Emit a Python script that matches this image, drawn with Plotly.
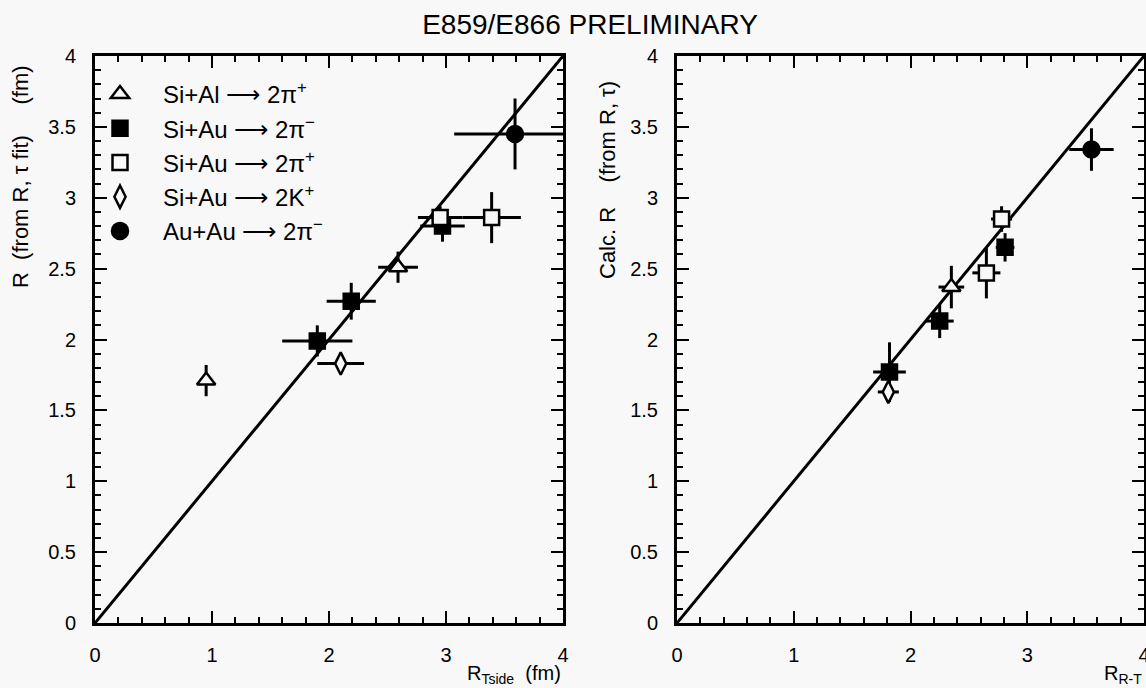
import plotly.graph_objects as go

# ---------------- data ----------------
diag = [0, 4]

# Left panel: R (from R, tau fit) vs R_Tside
L_tri_x = [0.95, 2.59];  L_tri_y = [1.71, 2.51];  L_tri_ex = [0.0, 0.17];  L_tri_ey = [0.11, 0.11]
L_fsq_x = [1.90, 2.19, 2.97];  L_fsq_y = [1.99, 2.27, 2.80];  L_fsq_ex = [0.30, 0.21, 0.19];  L_fsq_ey = [0.11, 0.13, 0.11]
L_osq_x = [2.95, 3.39];  L_osq_y = [2.86, 2.86];  L_osq_ex = [0.19, 0.25];  L_osq_ey = [0.08, 0.18]
L_dia_x = [2.10];  L_dia_y = [1.83];  L_dia_ex = [0.20];  L_dia_ey = [0.07]
L_cir_x = [3.59];  L_cir_y = [3.45];  L_cir_ex = [0.52];  L_cir_ey = [0.25]

# Right panel: Calc. R (from R, tau) vs R_R-T
R_tri_x = [2.35];  R_tri_y = [2.37];  R_tri_ex = [0.11];  R_tri_ey = [0.15]
R_fsq_x = [1.82, 2.25, 2.81];  R_fsq_y = [1.77, 2.13, 2.65];  R_fsq_ex = [0.14, 0.12, 0.08];  R_fsq_ey = [0.21, 0.12, 0.10]
R_osq_x = [2.78, 2.65];  R_osq_y = [2.85, 2.47];  R_osq_ex = [0.09, 0.12];  R_osq_ey = [0.09, 0.18]
R_dia_x = [1.81];  R_dia_y = [1.63];  R_dia_ex = [0.09];  R_dia_ey = [0.05]
R_cir_x = [3.55];  R_cir_y = [3.34];  R_cir_ex = [0.19];  R_cir_ey = [0.15]

ARROW = "\u27f6"
labels = [f"Si+Al {ARROW} 2\u03c0<sup>+</sup>",
          f"Si+Au {ARROW} 2\u03c0<sup>\u2212</sup>",
          f"Si+Au {ARROW} 2\u03c0<sup>+</sup>",
          f"Si+Au {ARROW} 2K<sup>+</sup>",
          f"Au+Au {ARROW} 2\u03c0<sup>\u2212</sup>"]

# ---------------- styling ----------------
BG = "#f8f8f8"
FONT = "Liberation Sans"
W, H = 1146, 688

styles = [
    dict(symbol="triangle-up", size=16, color=BG),
    dict(symbol="square", size=15, color="black"),
    dict(symbol="square", size=15, color=BG),
    dict(symbol="diamond-tall", size=16, color=BG),
    dict(symbol="circle", size=16, color="black"),
]

left_sets = [(L_tri_x, L_tri_y, L_tri_ex, L_tri_ey),
             (L_fsq_x, L_fsq_y, L_fsq_ex, L_fsq_ey),
             (L_osq_x, L_osq_y, L_osq_ex, L_osq_ey),
             (L_dia_x, L_dia_y, L_dia_ex, L_dia_ey),
             (L_cir_x, L_cir_y, L_cir_ex, L_cir_ey)]
right_sets = [(R_tri_x, R_tri_y, R_tri_ex, R_tri_ey),
              (R_fsq_x, R_fsq_y, R_fsq_ex, R_fsq_ey),
              (R_osq_x, R_osq_y, R_osq_ex, R_osq_ey),
              (R_dia_x, R_dia_y, R_dia_ex, R_dia_ey),
              (R_cir_x, R_cir_y, R_cir_ex, R_cir_ey)]

fig = go.Figure()

# diagonal reference lines
for xa, ya in (("x", "y"), ("x2", "y2")):
    fig.add_trace(go.Scatter(x=diag, y=diag, mode="lines", xaxis=xa, yaxis=ya,
                             line=dict(color="black", width=3), showlegend=False,
                             hoverinfo="skip"))

def add_points(sets, xa, ya, show):
    for i, (xs, ys, ex, ey) in enumerate(sets):
        st = styles[i]
        fig.add_trace(go.Scatter(
            x=xs, y=ys, mode="markers", xaxis=xa, yaxis=ya,
            name=labels[i], legendgroup=str(i), showlegend=show,
            marker=dict(symbol=st["symbol"], size=st["size"], color=st["color"],
                        line=dict(color="black", width=2.5)),
            error_x=dict(type="data", array=ex, visible=True, color="black",
                         thickness=3, width=0),
            error_y=dict(type="data", array=ey, visible=True, color="black",
                         thickness=3, width=0),
        ))

add_points(left_sets, "x", "y", True)
add_points(right_sets, "x2", "y2", False)

def axis(dtick, minor_dtick, domain, anchor):
    return dict(range=[0, 4], domain=domain, anchor=anchor, automargin=False,
                tickmode="linear", tick0=0, dtick=dtick,
                showline=True, linewidth=3, linecolor="black", mirror="ticks",
                ticks="inside", ticklen=12, tickwidth=2, tickcolor="black",
                showgrid=False, zeroline=False,
                tickfont=dict(family=FONT, size=20, color="black"),
                ticklabelstandoff=12, ticklabeloverflow="allow",
                minor=dict(dtick=minor_dtick, ticks="inside", ticklen=6,
                           tickwidth=1.5, tickcolor="black", showgrid=False))

xd1 = [95 / W, 563 / W]
xd2 = [677 / W, 1144 / W]
yd = [(H - 623) / H, (H - 56) / H]

fig.update_layout(
    width=W, height=H,
    margin=dict(l=0, r=0, t=0, b=0, autoexpand=False),
    paper_bgcolor=BG, plot_bgcolor=BG,
    font=dict(family=FONT, color="black"),
    xaxis=axis(1, 0.2, xd1, "y"),
    yaxis=axis(0.5, 0.1, yd, "x"),
    xaxis2=axis(1, 0.2, xd2, "y2"),
    yaxis2=axis(0.5, 0.1, yd, "x2"),
    title=dict(text="E859/E866 PRELIMINARY", x=590 / W, xanchor="center",
               y=1 - 24 / H, yanchor="middle",
               font=dict(family=FONT, size=28, color="black")),
    legend=dict(x=77 / W, y=(H - 72) / H, xanchor="left", yanchor="top",
                bgcolor="rgba(0,0,0,0)", borderwidth=0, itemwidth=76,
                font=dict(family=FONT, size=24, color="black"),
                traceorder="normal"),
    showlegend=True,
)

ann_font = dict(family=FONT, size=20, color="black")
fig.add_annotation(text="R<sub>Tside</sub>  (fm)", xref="paper", yref="paper",
                   x=563 / W, y=(H - 674) / H, xanchor="right", yanchor="middle",
                   showarrow=False, font=ann_font)
fig.add_annotation(text="R<sub>R-T</sub>", xref="paper", yref="paper",
                   x=1144 / W, y=(H - 674) / H, xanchor="right", yanchor="middle",
                   showarrow=False, font=ann_font)
fig.add_annotation(text="R  (from R, \u03c4 fit)     (fm)", xref="paper", yref="paper",
                   x=20 / W, y=(H - 177) / H, xanchor="center", yanchor="middle",
                   textangle=-90, showarrow=False,
                   font=dict(family=FONT, size=22, color="black"))
fig.add_annotation(text="Calc. R    (from R, \u03c4)", xref="paper", yref="paper",
                   x=607 / W, y=(H - 180) / H, xanchor="center", yanchor="middle",
                   textangle=-90, showarrow=False,
                   font=dict(family=FONT, size=22, color="black"))

fig.write_html("out.html", config={"displayModeBar": False},
               post_script="document.body.style.margin='0';document.body.style.overflow='hidden';")
